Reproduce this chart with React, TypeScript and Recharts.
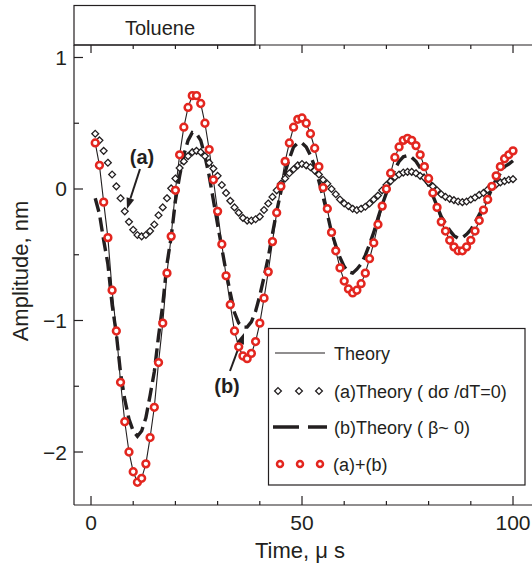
import { LineChart, Line, XAxis, YAxis, Customized } from "recharts";

const INK = "#231f20";
const RED = "#e3261f";

// time, microseconds
const time = [
  1, 2, 3, 4, 5, 6, 7, 8, 9, 10, 11, 12, 13, 14, 15, 16, 17, 18, 19, 20,
  21, 22, 23, 24, 25, 26, 27, 28, 29, 30, 31, 32, 33, 34, 35, 36, 37, 38, 39, 40,
  41, 42, 43, 44, 45, 46, 47, 48, 49, 50, 51, 52, 53, 54, 55, 56, 57, 58, 59, 60,
  61, 62, 63, 64, 65, 66, 67, 68, 69, 70, 71, 72, 73, 74, 75, 76, 77, 78, 79, 80,
  81, 82, 83, 84, 85, 86, 87, 88, 89, 90, 91, 92, 93, 94, 95, 96, 97, 98, 99, 100,
];

// (a)+(b), the full theory curve runs through these points
const sumAB = [
  0.35, 0.18, -0.1, -0.37, -0.77, -1.08, -1.47, -1.77, -2.0, -2.15,
  -2.23, -2.2, -2.09, -1.89, -1.66, -1.32, -1.02, -0.64, -0.36, -0.01,
  0.26, 0.47, 0.62, 0.71, 0.71, 0.65, 0.5, 0.3, 0.07, -0.17,
  -0.42, -0.66, -0.88, -1.08, -1.2, -1.27, -1.29, -1.25, -1.16, -1.02,
  -0.83, -0.63, -0.4, -0.18, 0.02, 0.21, 0.35, 0.47, 0.53, 0.54,
  0.5, 0.42, 0.31, 0.17, 0.01, -0.15, -0.33, -0.47, -0.6, -0.7,
  -0.76, -0.79, -0.77, -0.72, -0.64, -0.53, -0.41, -0.27, -0.13, 0.0,
  0.12, 0.24, 0.32, 0.37, 0.385, 0.37, 0.33, 0.26, 0.17, 0.08,
  -0.03, -0.14, -0.25, -0.32, -0.39, -0.44, -0.47, -0.47, -0.44, -0.39,
  -0.32, -0.24, -0.16, -0.08, 0.02, 0.1, 0.17, 0.23, 0.26, 0.29,
];

// (a) Theory (dσ/dT = 0)
const theoryA = [
  0.42, 0.37, 0.29, 0.2, 0.11, 0.02, -0.07, -0.17, -0.25, -0.31,
  -0.35, -0.36, -0.35, -0.32, -0.27, -0.2, -0.14, -0.07, 0.005, 0.08,
  0.16, 0.21, 0.25, 0.28, 0.29, 0.28, 0.25, 0.2, 0.155, 0.1,
  0.03, -0.03, -0.09, -0.14, -0.18, -0.22, -0.24, -0.24, -0.23, -0.21,
  -0.16, -0.11, -0.06, -0.01, 0.04, 0.08, 0.12, 0.15, 0.18, 0.19,
  0.18, 0.165, 0.14, 0.11, 0.07, 0.04, 0.0, -0.04, -0.08, -0.11,
  -0.13, -0.15, -0.16, -0.15, -0.135, -0.11, -0.08, -0.05, -0.01, 0.03,
  0.06, 0.09, 0.11, 0.125, 0.13, 0.13, 0.12, 0.1, 0.085, 0.05,
  0.02, -0.01, -0.04, -0.06, -0.075, -0.085, -0.095, -0.1, -0.095, -0.08,
  -0.065, -0.045, -0.03, -0.005, 0.015, 0.035, 0.05, 0.06, 0.07, 0.075,
];

// (b) Theory (β ~ 0)
const theoryB = [
  -0.07, -0.19, -0.39, -0.57, -0.88, -1.1, -1.4, -1.6, -1.75, -1.84,
  -1.88, -1.84, -1.74, -1.57, -1.39, -1.12, -0.88, -0.57, -0.365, -0.09,
  0.1, 0.26, 0.37, 0.43, 0.42, 0.37, 0.25, 0.1, -0.085, -0.27,
  -0.45, -0.63, -0.79, -0.94, -1.02, -1.05, -1.05, -1.01, -0.93, -0.81,
  -0.67, -0.52, -0.34, -0.17, -0.02, 0.13, 0.23, 0.32, 0.35, 0.35,
  0.32, 0.255, 0.17, 0.06, -0.06, -0.19, -0.33, -0.43, -0.52, -0.59,
  -0.63, -0.64, -0.61, -0.57, -0.505, -0.42, -0.33, -0.22, -0.12, -0.03,
  0.06, 0.15, 0.21, 0.245, 0.255, 0.24, 0.21, 0.16, 0.085, 0.03,
  -0.05, -0.13, -0.21, -0.26, -0.315, -0.355, -0.375, -0.37, -0.345, -0.31,
  -0.255, -0.195, -0.13, -0.075, 0.005, 0.065, 0.12, 0.17, 0.19, 0.215,
];

const xTicks = [0, 10, 20, 30, 40, 50, 60, 70, 80, 90, 100];
const xLabels = [0, 50, 100];
const yTicks = [-2, -1.5, -1, -0.5, 0, 0.5, 1];

const data = time.map((t, i) => ({
  t,
  theory: sumAB[i],
  a: theoryA[i],
  b: theoryB[i],
  sum: sumAB[i],
}));

const fmt = (v: number) => (v < 0 ? `\u2212${Math.abs(v)}` : `${v}`);

function BottomTick({ x, y, payload }: any) {
  const v = payload.value;
  const major = xLabels.includes(v);
  return (
    <g>
      <line x1={x} x2={x} y1={y} y2={y - (major ? 9 : 4)} stroke={INK} strokeWidth={1.2} />
      {major && (
        <text x={x} y={y + 25} textAnchor="middle" fontSize={21} fill={INK}>
          {v}
        </text>
      )}
    </g>
  );
}

function TopTick({ x, y, payload }: any) {
  const major = xLabels.includes(payload.value);
  return <line x1={x} x2={x} y1={y} y2={y + (major ? 8 : 4)} stroke={INK} strokeWidth={1.2} />;
}

function LeftTick({ x, y, payload }: any) {
  const v = payload.value;
  const major = Number.isInteger(v);
  return (
    <g>
      <line x1={x} x2={x + (major ? 9 : 5)} y1={y} y2={y} stroke={INK} strokeWidth={1.2} />
      {major && (
        <text x={x - 7} y={y + 7.5} textAnchor="end" fontSize={21} fill={INK}>
          {fmt(v)}
        </text>
      )}
    </g>
  );
}

function RightTick({ x, y, payload }: any) {
  const major = Number.isInteger(payload.value);
  return <line x1={x} x2={x - (major ? 8 : 5)} y1={y} y2={y} stroke={INK} strokeWidth={1.2} />;
}

function Diamond(p: any) {
  const { cx, cy } = p;
  if (cx == null || cy == null) return <g key={p.key} />;
  const s = 3.4;
  return (
    <path
      key={p.key}
      d={`M${cx},${cy - s}L${cx + s},${cy}L${cx},${cy + s}L${cx - s},${cy}Z`}
      fill="#fff"
      stroke={INK}
      strokeWidth={1.3}
    />
  );
}

function Ring(p: any) {
  const { cx, cy } = p;
  if (cx == null || cy == null) return <g key={p.key} />;
  const r = p.r0 ?? 3.4;
  return <circle key={p.key} cx={cx} cy={cy} r={r} fill="#fff" stroke={RED} strokeWidth={2.5} />;
}

function Arrow({ x1, y1, x2, y2 }: { x1: number; y1: number; x2: number; y2: number }) {
  const ang = Math.atan2(y2 - y1, x2 - x1);
  const len = 11;
  const half = 4;
  const bx = x2 - len * Math.cos(ang);
  const by = y2 - len * Math.sin(ang);
  const px = -Math.sin(ang) * half;
  const py = Math.cos(ang) * half;
  return (
    <g>
      <line x1={x1} y1={y1} x2={bx} y2={by} stroke={INK} strokeWidth={2} />
      <path d={`M${x2},${y2}L${bx + px},${by + py}L${bx - px},${by - py}Z`} fill={INK} />
    </g>
  );
}

function Overlay() {
  return (
    <g fill={INK}>
      {/* sample title box */}
      <rect x={74} y={5.5} width={181} height={39.5} fill="#fff" stroke={INK} strokeWidth={1.2} />
      <text x={160} y={35} textAnchor="middle" fontSize={20}>Toluene</text>

      {/* annotations */}
      <text x={142} y={164} textAnchor="middle" fontSize={20} fontWeight="bold">(a)</text>
      <Arrow x1={140} y1={169} x2={127} y2={209} />
      <text x={227} y={393} textAnchor="middle" fontSize={20} fontWeight="bold">(b)</text>
      <Arrow x1={230} y1={371} x2={244} y2={333} />

      {/* legend */}
      <rect x={268.5} y={328.5} width={256.5} height={156.5} fill="#fff" stroke={INK} strokeWidth={1.2} />
      <line x1={275} x2={325} y1={353} y2={353} stroke={INK} strokeWidth={1.1} />
      <text x={334} y={360} fontSize={18}>Theory</text>
      {[278, 299, 319].map((cx) => (
        <Diamond key={cx} cx={cx} cy={391} />
      ))}
      <text x={334} y={398} fontSize={18}>(a)Theory ( dσ /dT=0)</text>
      <line x1={273} x2={327} y1={427} y2={427} stroke={INK} strokeWidth={3.5} strokeDasharray="26 9" />
      <text x={334} y={434} fontSize={18}>(b)Theory ( β~ 0)</text>
      {[280, 300, 320].map((cx) => (
        <Ring key={cx} cx={cx} cy={464} r0={3} />
      ))}
      <text x={333} y={471} fontSize={18}>(a)+(b)</text>

      {/* axis titles */}
      <text x={300} y={558} textAnchor="middle" fontSize={22}>
        Time, μ s
      </text>
      <text x={28} y={271} textAnchor="middle" fontSize={22} transform="rotate(-90 28 271)">
        Amplitude, nm
      </text>
    </g>
  );
}

export default function App() {
  return (
    <div style={{ position: "absolute", left: 0, top: 0, background: "#fff" }}>
      <LineChart
        width={532}
        height={564}
        data={data}
        margin={{ top: 0, right: 0, bottom: 0, left: 0 }}
        style={{ fontFamily: "'Liberation Sans', Arial, sans-serif" }}
      >
        <XAxis
          xAxisId="bottom"
          dataKey="t"
          type="number"
          domain={[-4.03, 104.5]}
          ticks={xTicks}
          interval={0}
          height={59}
          tickSize={0}
          tickMargin={0}
          tickLine={false}
          tick={(p: any) => <BottomTick {...p} />}
          axisLine={{ stroke: INK, strokeWidth: 1.2 }}
          allowDataOverflow
        />
        <XAxis
          xAxisId="top"
          orientation="top"
          dataKey="t"
          type="number"
          domain={[-4.03, 104.5]}
          ticks={xTicks}
          interval={0}
          height={45}
          tickSize={0}
          tickMargin={0}
          tickLine={false}
          tick={(p: any) => <TopTick {...p} />}
          axisLine={{ stroke: INK, strokeWidth: 1.2 }}
          allowDataOverflow
        />
        <YAxis
          yAxisId="left"
          type="number"
          domain={[-2.403, 1.095]}
          ticks={yTicks}
          interval={0}
          width={74}
          tickSize={0}
          tickMargin={0}
          tickLine={false}
          tick={(p: any) => <LeftTick {...p} />}
          axisLine={{ stroke: INK, strokeWidth: 1.2 }}
          allowDataOverflow
        />
        <YAxis
          yAxisId="right"
          orientation="right"
          type="number"
          domain={[-2.403, 1.095]}
          ticks={yTicks}
          interval={0}
          width={0}
          tickSize={0}
          tickMargin={0}
          tickLine={false}
          tick={(p: any) => <RightTick {...p} />}
          axisLine={false}
          allowDataOverflow
        />
        <Line
          xAxisId="bottom"
          yAxisId="left"
          dataKey="a"
          name="(a)Theory ( dσ /dT=0)"
          stroke="none"
          dot={Diamond}
          activeDot={false}
          isAnimationActive={false}
        />
        <Line
          xAxisId="bottom"
          yAxisId="left"
          dataKey="theory"
          name="Theory"
          type="linear"
          stroke={INK}
          strokeWidth={1.1}
          dot={false}
          activeDot={false}
          isAnimationActive={false}
        />
        <Line
          xAxisId="bottom"
          yAxisId="left"
          dataKey="b"
          name="(b)Theory ( β~ 0)"
          type="linear"
          stroke={INK}
          strokeWidth={3.4}
          strokeDasharray="14 6"
          dot={false}
          activeDot={false}
          isAnimationActive={false}
        />
        <Line
          xAxisId="bottom"
          yAxisId="left"
          dataKey="sum"
          name="(a)+(b)"
          stroke="none"
          dot={Ring}
          activeDot={false}
          isAnimationActive={false}
        />
        <Customized component={Overlay} />
      </LineChart>
    </div>
  );
}
